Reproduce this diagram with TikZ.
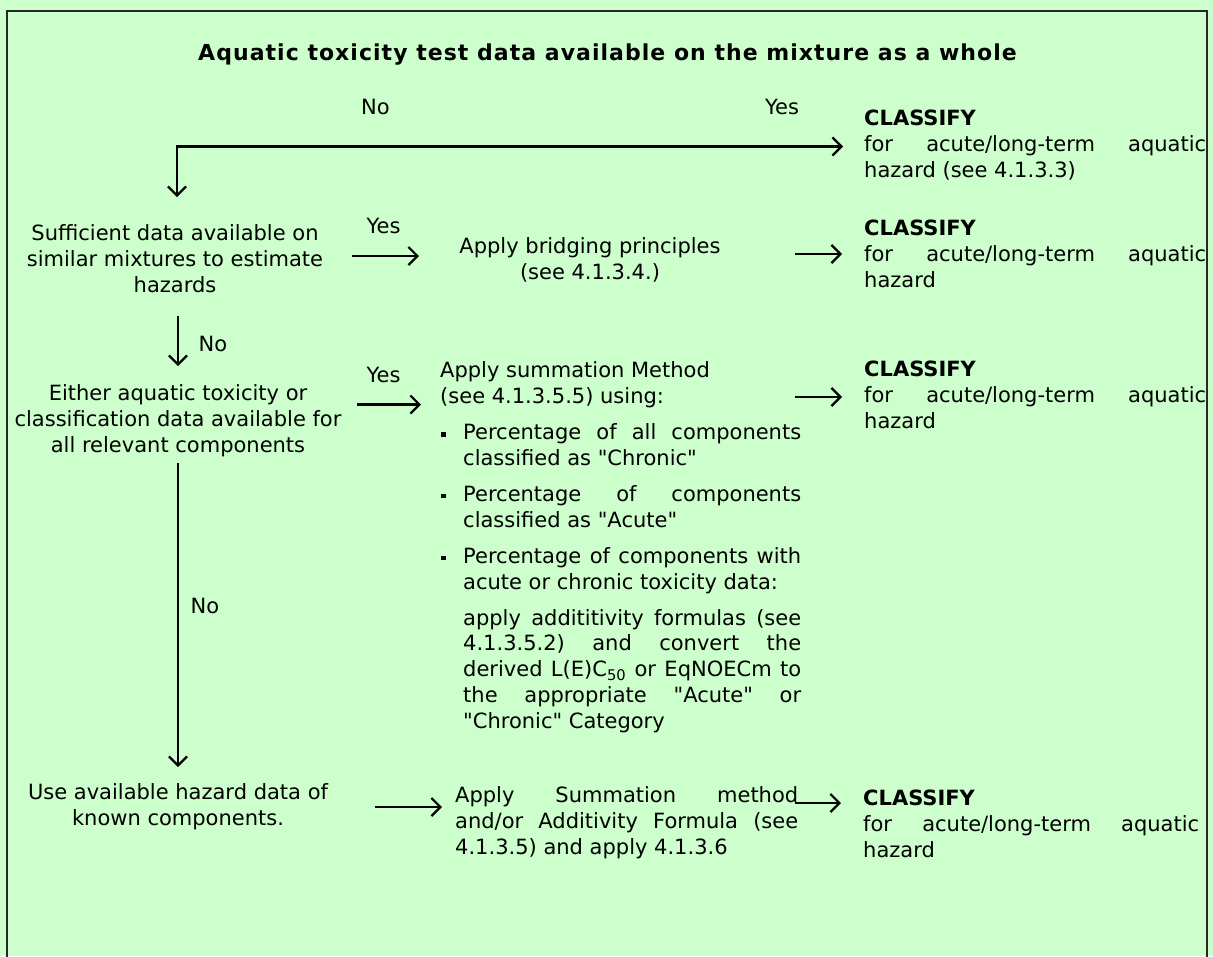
\documentclass[tikz,border=0pt]{standalone}
\usepackage{fontspec}
\setmainfont{DejaVu Sans}[Ligatures=TeXOff]
\usetikzlibrary{arrows.meta}
\definecolor{bgc}{RGB}{204,255,204}
\newcommand{\jl}[2]{\makebox[#1][s]{#2}}
\newcommand{\bul}{\makebox[23pt][l]{\hspace*{1pt}\rule[3pt]{4.5pt}{4.5pt}}}
\newcommand{\ind}{\hspace*{23pt}}
\begin{document}
\begin{tikzpicture}[x=1pt,y=-1pt,
  txt/.style={inner sep=0pt, font=\fontsize{21}{25.7}\selectfont},
  arr/.style={line width=2.2pt, -{Straight Barb[length=9pt,width=18pt]}},
  frame/.style={line width=2pt, draw=black!85}]
\useasboundingbox (0,0) rectangle (1213,956);
\fill[bgc] (0,0) rectangle (1213,956);
\draw[frame] (7,962) -- (7,11) -- (1207,11) -- (1207,962);

% texts (multi-line nodes are anchored at the baseline of their last line)
\node[txt, font=\fontsize{22}{26}\selectfont\bfseries\addfontfeature{LetterSpace=4.7}, anchor=base] (title) at (607.5,60)
  {Aquatic toxicity test data available on the mixture as a whole};
\node[txt, anchor=base] (no1) at (375.5,114) {No};
\node[txt, anchor=base] (yes1) at (782,114) {Yes};
\node[txt, anchor=base west, align=left] (c1) at (864,177)
  {\textbf{CLASSIFY}\\ \jl{342pt}{for acute/long-term aquatic}\\ hazard (see 4.1.3.3)};

\node[txt, anchor=base, align=center] (q1) at (175,292)
  {Sufficient data available on\\similar mixtures to estimate\\hazards};
\node[txt, anchor=base] (yes2) at (383.5,233) {Yes};
\node[txt, anchor=base, align=center] (bridge) at (590,279)
  {Apply bridging principles\\(see 4.1.3.4.)};
\node[txt, anchor=base west, align=left] (c2) at (864,287)
  {\textbf{CLASSIFY}\\ \jl{342pt}{for acute/long-term aquatic}\\ hazard};

\node[txt, anchor=base] (no2) at (213,351) {No};
\node[txt, anchor=base, align=center] (q2) at (178,452)
  {Either aquatic toxicity or\\classification data available for\\all relevant components};
\node[txt, anchor=base] (yes3) at (383.5,382) {Yes};
\node[txt, anchor=base west, align=left] (sum) at (440,728)
  {Apply summation Method\\
   (see 4.1.3.5.5) using:\\[10.5pt]
   \bul\jl{338pt}{Percentage of all components}\\
   \ind classified as "Chronic"\\[10.5pt]
   \bul\jl{338pt}{Percentage of components}\\
   \ind classified as "Acute"\\[10.5pt]
   \bul\jl{338pt}{Percentage of components with}\\
   \ind acute or chronic toxicity data:\\[10.5pt]
   \ind\jl{338pt}{apply addititivity formulas (see}\\
   \ind\jl{338pt}{4.1.3.5.2) and convert the}\\
   \ind\jl{338pt}{derived L(E)C\textsubscript{50} or EqNOECm to}\\
   \ind\jl{338pt}{the appropriate "Acute" or}\\
   \ind "Chronic" Category};
\node[txt, anchor=base west, align=left] (c3) at (864,428)
  {\textbf{CLASSIFY}\\ \jl{342pt}{for acute/long-term aquatic}\\ hazard};

\node[txt, anchor=base] (no3) at (205,613) {No};
\node[txt, anchor=base, align=center] (q3) at (178,825)
  {Use available hazard data of\\known components.};
\node[txt, anchor=base west, align=left] (sum2) at (455,854)
  {\jl{343pt}{Apply Summation method}\\
   \jl{343pt}{and/or Additivity Formula (see}\\
   4.1.3.5) and apply 4.1.3.6};
\node[txt, anchor=base west, align=left] (c4) at (863,857)
  {\textbf{CLASSIFY}\\ \jl{336pt}{for acute/long-term aquatic}\\ hazard};

% connector end points
\coordinate (corner) at (177,146.5);
\coordinate (c1in) at (843,146.5);
\coordinate (q1top) at (177,197);
\coordinate (q1out) at (352,256);
\coordinate (brin) at (419,256);
\coordinate (brout) at (795,254);
\coordinate (c2in) at (842,254);
\coordinate (q1bot) at (178,316);
\coordinate (q2top) at (178,366);
\coordinate (q2out) at (357,404.5);
\coordinate (sumin) at (421,404.5);
\coordinate (sumout) at (795,397);
\coordinate (c3in) at (842,397);
\coordinate (q2bot) at (178,463);
\coordinate (q3top) at (178,767);
\coordinate (q3out) at (375,807);
\coordinate (sum2in) at (442,807);
\coordinate (sum2out) at (795,803);
\coordinate (c4in) at (841,803);

\draw[line width=2.2pt, {Straight Barb[length=9pt,width=18pt]}-{Straight Barb[length=9pt,width=18pt]}]
  (q1top) -- (corner) -- (c1in);
\draw[arr] (q1out) -- (brin);
\draw[arr] (brout) -- (c2in);
\draw[arr] (q1bot) -- (q2top);
\draw[arr] (q2out) -- (sumin);
\draw[arr] (sumout) -- (c3in);
\draw[arr] (q2bot) -- (q3top);
\draw[arr] (q3out) -- (sum2in);
\draw[arr] (sum2out) -- (c4in);
\end{tikzpicture}
\end{document}
